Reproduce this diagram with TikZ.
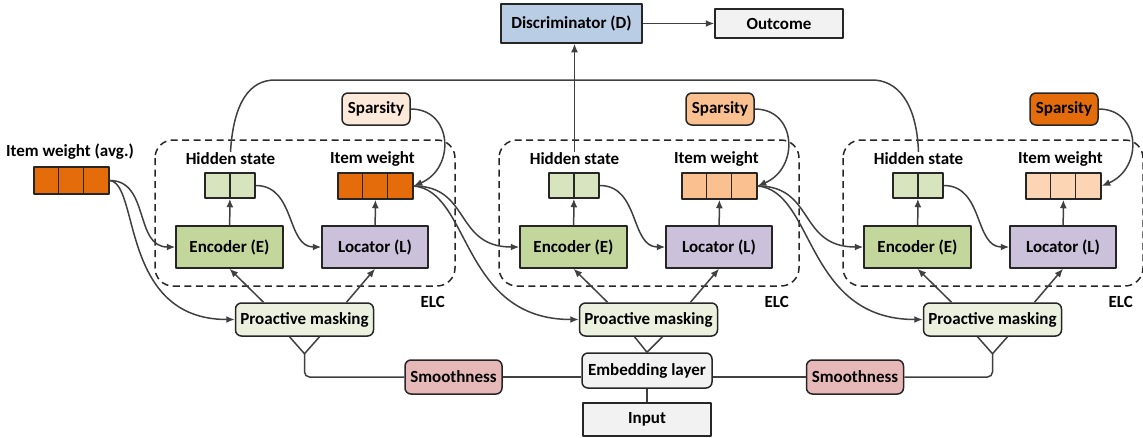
\documentclass[tikz,border=0pt]{standalone}
\usepackage{fontspec}
\setmainfont{Carlito}
\usetikzlibrary{arrows.meta}

\definecolor{discblue}{HTML}{B9CDE5}
\definecolor{paleg}{HTML}{F2F2F2}
\definecolor{encgreen}{HTML}{C3D69B}
\definecolor{locpurple}{HTML}{CCC1DA}
\definecolor{hidgreen}{HTML}{D7E4BD}
\definecolor{pmgreen}{HTML}{EBF1DE}
\definecolor{smoothred}{HTML}{E6B9B8}
\definecolor{ordark}{HTML}{E46C0A}
\definecolor{ormid}{HTML}{FAC090}
\definecolor{orlight}{HTML}{FCD5B5}
\definecolor{splight}{HTML}{FDE9D9}
\definecolor{linegray}{HTML}{404040}

\tikzset{
  box/.style={draw=black!85, line width=1.5pt, inner sep=0pt,
    font=\fontsize{17}{20}\selectfont\bfseries},
  rbox/.style={box, rounded corners=6pt},
  cellrow/.style={draw=black!85, line width=1.5pt, inner sep=0pt, minimum height=26pt},
  divider/.style={draw=black!85, line width=1.5pt},
  lab/.style={inner sep=1pt, font=\fontsize{17}{20}\selectfont\bfseries},
  conn/.style={draw=linegray, line width=1.5pt},
  arr/.style={conn, -{Latex[length=8.5pt,width=7pt]}},
  elcbox/.style={draw=black!85, line width=1.5pt, dash pattern=on 7pt off 4.5pt,
    rounded corners=18pt},
}

\begin{document}
\begin{tikzpicture}[x=1pt,y=-1pt,line join=round]
    \useasboundingbox (0,0) rectangle (1143,437);

    % discriminator and outcome
    \node[box, fill=discblue, minimum width=141pt, minimum height=39pt] (disc) at (571.5,23.5) {Discriminator (D)};
    \node[box, fill=paleg, minimum width=128pt, minimum height=29pt] (out) at (779,23.5) {Outcome};
    \draw[arr] (disc) -- (out);

    % averaged item weight
    \node[lab] (avglab) at (70,152) {Item weight (avg.)};
    \node[cellrow, fill=ordark, minimum width=75pt, minimum height=27pt] (avg) at (71.5,180.5) {};
    \foreach \k in {25,50}
        \draw[divider] ([xshift=\k pt]avg.north west) -- ([xshift=\k pt]avg.south west);

    % the three ELC units
    \foreach \o/\i/\spc/\iwc in {0/1/splight/ordark, 344/2/ormid/ormid, 688/3/ordark/orlight} {
        \draw[elcbox] (155+\o,140) rectangle (455+\o,286);
        \node[lab, anchor=east] at (446+\o,302) {ELC};

        \node[lab] (hl\i) at (230.5+\o,159) {Hidden state};
        \node[lab] (il\i) at (372.5+\o,159) {Item weight};
        \node[cellrow, fill=hidgreen, minimum width=50pt, minimum height=25pt] (hs\i) at (230+\o,185.5) {};
        \draw[divider] (hs\i.north) -- (hs\i.south);
        \node[cellrow, fill=\iwc, minimum width=75pt] (iw\i) at (375.5+\o,186) {};
        \foreach \k in {25,50}
            \draw[divider] ([xshift=\k pt]iw\i.north west) -- ([xshift=\k pt]iw\i.south west);

        \node[box, fill=encgreen, minimum width=107pt, minimum height=42pt] (enc\i) at (229.5+\o,247) {Encoder (E)};
        \node[box, fill=locpurple, minimum width=106pt, minimum height=42pt] (loc\i) at (375+\o,247) {Locator (L)};
        \node[rbox, fill=\spc, minimum width=68pt, minimum height=32pt] (sp\i) at (376+\o,109) {Sparsity};
        \node[rbox, fill=pmgreen, minimum width=138pt, minimum height=33pt] (pm\i) at (304.5+\o,319.5) {Proactive masking};

        \draw[arr] (enc\i) -- (hs\i);
        \draw[arr] (loc\i) -- (iw\i);
        \draw[arr] (hs\i.east) .. controls +(40,0) and +(-35,0) .. (loc\i.west);
        \draw[arr] (sp\i.east) .. controls +(42,0) and +(42,-18) .. (iw\i.east);
        \draw[arr] ([xshift=-41pt]pm\i.north) -- (enc\i.south);
        \draw[arr] ([xshift=42pt]pm\i.north) -- (loc\i.south);
    }

    % weights handed on to the next unit
    \draw[arr] (avg.east) .. controls +(40,0) and +(-41,0) .. (enc1.west);
    \draw[arr] (avg.east) .. controls +(30,3) and +(-115,0) .. (pm1.west);
    \draw[arr] (iw1.east) .. controls +(57,0) and +(-65,0) .. (enc2.west);
    \draw[arr] (iw1.east) .. controls +(57,5) and +(-118,0) .. (pm2.west);
    \draw[arr] (iw2.east) .. controls +(57,0) and +(-65,0) .. (enc3.west);
    \draw[arr] (iw2.east) .. controls +(57,5) and +(-118,0) .. (pm3.west);

    % hidden states to the discriminator
    \coordinate (topL) at (275,80);
    \coordinate (topR) at (872,80);
    \draw[conn] (hl1.north) .. controls +(3,-50) and +(-25,0) .. (topL) -- (topR)
        .. controls +(25,0) and +(-2,-50) .. (hl3.north);
    \draw[arr] (hl2.north) -- (hl2.north |- disc.south);

    % bottom part
    \node[rbox, fill=paleg, minimum width=130pt, minimum height=35pt] (emb) at (647,370.5) {Embedding layer};
    \node[box, fill=paleg, minimum width=128pt, minimum height=33pt] (inp) at (647,419.5) {Input};
    \node[rbox, fill=smoothred, minimum width=97pt, minimum height=34pt] (sm1) at (453.5,377) {Smoothness};
    \node[rbox, fill=smoothred, minimum width=97pt, minimum height=34pt] (sm2) at (855,377) {Smoothness};

    \draw[conn] (inp) -- (emb);
    \draw[conn] (sm1.east) -- (sm1.east -| emb.west);
    \draw[conn] (sm2.west -| emb.east) -- (sm2.west);

    \coordinate (v1) at ([yshift=-17pt]pm1.south);
    \coordinate (v3) at ([yshift=-17pt]pm3.south);
    \draw[conn] ([xshift=-15pt]pm1.south) -- (v1) -- ([xshift=15pt]pm1.south);
    \draw[conn, rounded corners=5pt] (v1) |- (sm1.west);
    \draw[conn] ([xshift=-14pt]pm2.south) -- (emb.north) -- ([xshift=14pt]pm2.south);
    \draw[conn] ([xshift=-15pt]pm3.south) -- (v3) -- ([xshift=15pt]pm3.south);
    \draw[conn, rounded corners=5pt] (v3) |- (sm2.east);
\end{tikzpicture}
\end{document}
